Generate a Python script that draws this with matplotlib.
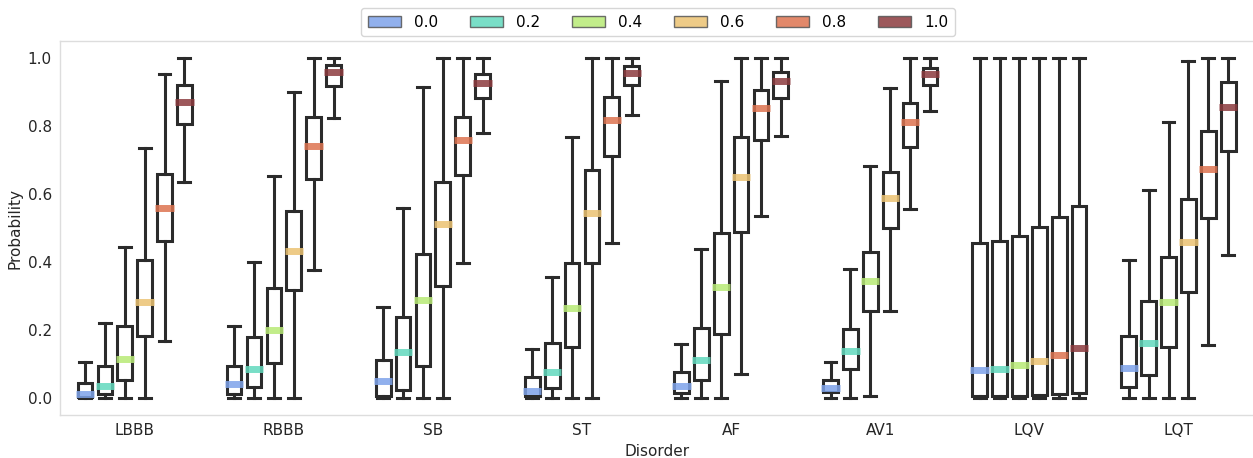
import numpy as np
import matplotlib.pyplot as plt
from matplotlib.patches import Patch

disorders = ['LBBB', 'RBBB', 'SB', 'ST', 'AF', 'AV1', 'LQV', 'LQT']
levels = ['0.0', '0.2', '0.4', '0.6', '0.8', '1.0']
colors = ['#7ea3ea', '#62d9bd', '#b8ea76', '#ebc272', '#dd7350', '#8c3b3e']

# per disorder, one row per level: whislo, q1, median, q3, whishi
lbbb = [[0.0, 0.002, 0.012, 0.044, 0.105],
        [0.0, 0.011, 0.036, 0.095, 0.220],
        [0.0, 0.054, 0.114, 0.211, 0.443],
        [0.0, 0.182, 0.282, 0.405, 0.736],
        [0.169, 0.462, 0.560, 0.660, 0.954],
        [0.637, 0.806, 0.871, 0.922, 1.0]]
rbbb = [[0.0, 0.012, 0.041, 0.093, 0.212],
        [0.0, 0.031, 0.085, 0.179, 0.399],
        [0.0, 0.103, 0.200, 0.324, 0.654],
        [0.0, 0.318, 0.433, 0.551, 0.900],
        [0.378, 0.644, 0.742, 0.826, 1.0],
        [0.824, 0.917, 0.958, 0.980, 1.0]]
sb = [[0.0, 0.007, 0.051, 0.113, 0.268],
      [0.0, 0.023, 0.134, 0.239, 0.558],
      [0.0, 0.093, 0.287, 0.423, 0.915],
      [0.0, 0.330, 0.513, 0.635, 1.0],
      [0.396, 0.655, 0.759, 0.828, 1.0],
      [0.780, 0.884, 0.926, 0.954, 1.0]]
st = [[0.0, 0.005, 0.020, 0.061, 0.143],
      [0.0, 0.030, 0.075, 0.161, 0.355],
      [0.0, 0.151, 0.265, 0.398, 0.768],
      [0.0, 0.398, 0.545, 0.672, 1.0],
      [0.455, 0.711, 0.817, 0.886, 1.0],
      [0.834, 0.920, 0.957, 0.976, 1.0]]
af = [[0.0, 0.015, 0.034, 0.075, 0.160],
      [0.0, 0.053, 0.112, 0.207, 0.437],
      [0.0, 0.188, 0.328, 0.486, 0.932],
      [0.070, 0.488, 0.651, 0.769, 1.0],
      [0.537, 0.759, 0.852, 0.907, 1.0],
      [0.771, 0.882, 0.932, 0.959, 1.0]]
av1 = [[0.0, 0.017, 0.028, 0.052, 0.107],
       [0.0, 0.085, 0.138, 0.203, 0.379],
       [0.005, 0.257, 0.343, 0.430, 0.683],
       [0.255, 0.500, 0.589, 0.666, 0.912],
       [0.556, 0.740, 0.812, 0.867, 1.0],
       [0.845, 0.921, 0.954, 0.971, 1.0]]
lqv = [[0.0, 0.005, 0.081, 0.456, 1.0],
       [0.0, 0.005, 0.086, 0.461, 1.0],
       [0.0, 0.005, 0.096, 0.477, 1.0],
       [0.0, 0.010, 0.109, 0.504, 1.0],
       [0.0, 0.012, 0.126, 0.534, 1.0],
       [0.0, 0.016, 0.146, 0.566, 1.0]]
lqt = [[0.0, 0.031, 0.087, 0.182, 0.405],
       [0.0, 0.068, 0.163, 0.285, 0.611],
       [0.0, 0.149, 0.283, 0.415, 0.812],
       [0.0, 0.313, 0.458, 0.585, 0.991],
       [0.155, 0.531, 0.674, 0.787, 1.0],
       [0.421, 0.728, 0.855, 0.931, 1.0]]

summaries = [lbbb, rbbb, sb, st, af, av1, lqv, lqt]

fig = plt.figure(figsize=(12.53, 4.58), dpi=100)
ax = fig.add_axes([0.048, 0.094, 0.952, 0.816])
ax.patch.set_edgecolor('none')

slot = 0.8 / len(levels)
edge = '#2b2b2b'

for i, rows in enumerate(summaries):
    for j, (lo, q1, med, q3, hi) in enumerate(rows):
        x = i + (j - (len(levels) - 1) / 2) * slot
        stats = [dict(whislo=lo, q1=q1, med=med, q3=q3, whishi=hi, fliers=[])]
        ax.bxp(stats, positions=[x], widths=slot * 0.74, capwidths=slot * 0.6,
               patch_artist=True, showfliers=False, manage_ticks=False,
               boxprops=dict(facecolor='white', edgecolor=edge, linewidth=2.2),
               whiskerprops=dict(color=edge, linewidth=2.2),
               capprops=dict(color=edge, linewidth=2.2),
               medianprops=dict(linewidth=0))
        ax.hlines(med, x - slot * 0.46, x + slot * 0.46, color=colors[j],
                  linewidth=5, alpha=0.85, zorder=4)

ax.set_xlim(-0.5, len(disorders) - 0.5)
ax.set_ylim(-0.05, 1.05)
ax.set_xticks(range(len(disorders)))
ax.set_xticklabels(disorders)
ax.set_yticks([0.0, 0.2, 0.4, 0.6, 0.8, 1.0])
ax.tick_params(length=0, labelsize=11, pad=6, colors='#262626')
ax.set_xlabel('Disorder', fontsize=11, color='#262626')
ax.set_ylabel('Probability', fontsize=11, color='#262626')
for side in ['left', 'bottom', 'top']:
    ax.spines[side].set_color('#dddddd')
    ax.spines[side].set_linewidth(1)
ax.spines['right'].set_color('none')

handles = [Patch(facecolor=c, edgecolor='#555555', alpha=0.85, label=l)
           for c, l in zip(colors, levels)]
fig.legend(handles=handles, loc='upper center', bbox_to_anchor=(0.525, 1.0),
           ncol=6, fontsize=11, frameon=True, handlelength=2.15,
           handletextpad=0.85, columnspacing=2.1, borderpad=0.45)

fig.savefig('out.png', dpi=100)
